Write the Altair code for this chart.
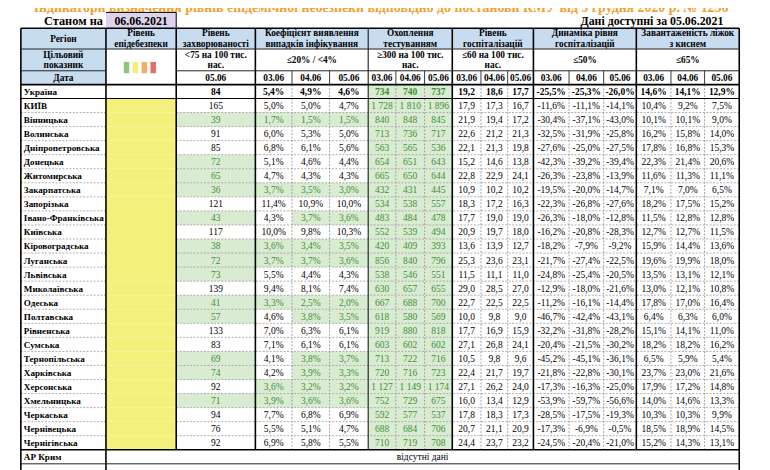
import altair as alt
import pandas as pd

# ---------------- data ----------------
TITLE = "Індикатори визначення рівнів епідемічної небезпеки відповідно до постанови КМУ від 9 грудня 2020 р. № 1236"
AS_OF_LABEL = "Станом на"
AS_OF_DATE = "06.06.2021"
AVAILABLE = "Дані доступні за  05.06.2021"

header_titles = ["Регіон", "Рівень\nепідебезпеки", "Рівень\nзахворюваності",
                 "Коефіцієнт виявлення\nвипадків інфікування", "Охоплення\nтестуванням",
                 "Рівень\nгоспіталізацій", "Динаміка рівня\nгоспіталізацій",
                 "Завантаженість ліжок\nз киснем"]
target_label = "Цільовий\nпоказник"
targets = ["<75 на 100 тис.\nнас.", "≤20% / <4%", "≥300 на 100 тис.\nнас.",
           "≤60 на 100 тис.\nнас.", "≤50%", "≤65%"]
date_label = "Дата"
incidence_date = "05.06"
dates3 = ["03.06", "04.06", "05.06"]

regions = ["Україна", "КИЇВ", "Вінницька", "Волинська", "Дніпропетровська", "Донецька",
           "Житомирська", "Закарпатська", "Запорізька", "Івано-Франківська", "Київська",
           "Кіровоградська", "Луганська", "Львівська", "Миколаївська", "Одеська", "Полтавська",
           "Рівненська", "Сумська", "Тернопільська", "Харківська", "Херсонська", "Хмельницька",
           "Черкаська", "Чернівецька", "Чернігівська"]

incidence = [84, 165, 39, 91, 85, 72, 65, 36, 121, 43, 117, 38, 72, 73, 139, 41, 57, 133, 83, 69, 74, 92, 71, 94, 76, 92]

det_0306 = [5.4, 5.0, 1.7, 6.0, 6.8, 5.1, 4.7, 3.7, 11.4, 4.3, 10.0, 3.6, 3.7, 5.5, 9.4, 3.3, 4.6, 7.0, 7.1, 4.1, 4.2, 3.6, 3.9, 7.7, 5.5, 6.9]
det_0406 = [4.9, 5.0, 1.5, 5.3, 6.1, 4.6, 4.3, 3.5, 10.9, 3.7, 9.8, 3.4, 3.7, 4.4, 8.1, 2.5, 3.8, 6.3, 6.1, 3.8, 3.9, 3.2, 3.6, 6.8, 5.1, 5.8]
det_0506 = [4.6, 4.7, 1.5, 5.0, 5.6, 4.4, 4.3, 3.0, 10.0, 3.6, 10.3, 3.5, 3.6, 4.3, 7.4, 2.0, 3.5, 6.1, 6.1, 3.7, 3.3, 3.2, 3.6, 6.9, 4.7, 5.5]

test_0306 = [734, 1728, 840, 713, 563, 654, 665, 432, 534, 483, 552, 420, 856, 538, 630, 667, 618, 919, 603, 713, 720, 1127, 752, 592, 688, 710]
test_0406 = [740, 1810, 848, 736, 565, 651, 650, 431, 538, 484, 539, 409, 840, 546, 657, 688, 580, 880, 602, 722, 716, 1149, 729, 577, 684, 719]
test_0506 = [737, 1896, 845, 717, 536, 643, 644, 445, 557, 478, 494, 393, 796, 551, 655, 700, 569, 818, 602, 716, 723, 1174, 675, 537, 706, 708]

hosp_0306 = [19.2, 17.9, 21.9, 22.6, 22.1, 15.2, 22.8, 10.9, 18.3, 17.7, 20.9, 13.6, 25.3, 11.5, 29.0, 22.7, 10.0, 17.7, 27.1, 10.5, 22.4, 27.1, 16.0, 17.8, 20.7, 24.4]
hosp_0406 = [18.6, 17.3, 19.4, 21.2, 21.3, 14.6, 22.9, 10.2, 17.2, 19.0, 19.7, 13.9, 23.6, 11.1, 28.5, 22.5, 9.8, 16.9, 26.8, 9.8, 21.7, 26.2, 13.4, 18.3, 21.1, 23.7]
hosp_0506 = [17.7, 16.7, 17.2, 21.3, 19.8, 13.8, 24.1, 10.2, 16.3, 19.0, 18.0, 12.7, 23.1, 11.0, 27.0, 22.5, 9.0, 15.9, 24.1, 9.6, 19.7, 24.0, 12.9, 17.3, 20.9, 23.2]

dyn_0306 = [-25.5, -11.6, -30.4, -32.5, -27.6, -42.3, -26.3, -19.5, -22.3, -26.3, -16.2, -18.2, -21.7, -24.8, -12.9, -11.2, -46.7, -32.2, -20.4, -45.2, -21.8, -17.3, -53.9, -28.5, -17.3, -24.5]
dyn_0406 = [-25.3, -11.1, -37.1, -31.9, -25.0, -39.2, -23.8, -20.0, -26.8, -18.0, -20.8, -7.9, -27.4, -25.4, -18.0, -16.1, -42.4, -31.8, -21.5, -45.1, -22.8, -16.3, -59.7, -17.5, -6.9, -20.4]
dyn_0506 = [-26.0, -14.1, -43.0, -25.8, -27.5, -39.4, -13.9, -14.7, -27.6, -12.8, -28.3, -9.2, -22.5, -20.5, -21.6, -14.4, -43.1, -28.2, -30.2, -36.1, -30.1, -25.0, -56.6, -19.3, -0.5, -21.0]

beds_0306 = [14.6, 10.4, 10.1, 16.2, 17.8, 22.3, 11.6, 7.1, 18.2, 11.5, 12.7, 15.9, 19.6, 13.5, 13.0, 17.8, 6.4, 15.1, 18.2, 6.5, 23.7, 17.9, 14.0, 10.3, 18.5, 15.2]
beds_0406 = [14.1, 9.2, 10.1, 15.8, 16.8, 21.4, 11.3, 7.0, 17.5, 12.8, 12.7, 14.4, 19.9, 13.1, 12.1, 17.0, 6.3, 14.1, 18.2, 5.9, 23.0, 17.2, 14.6, 10.3, 18.9, 14.3]
beds_0506 = [12.9, 7.5, 9.0, 14.0, 15.3, 20.6, 11.1, 6.5, 15.2, 12.8, 11.5, 13.6, 18.0, 12.1, 10.8, 16.4, 6.0, 11.0, 16.2, 5.4, 21.6, 14.8, 13.3, 9.9, 14.5, 13.1]

crimea_label = "АР Крим"
no_data = "відсутні дані"

# ---------------- layout / style ----------------
FONT = "Liberation Serif"
col_edges = [21, 107, 178, 258, 295, 333, 372, 400, 429, 457, 486, 513, 539, 575, 610, 643, 678, 712, 747]
group_spans = [(0, 1), (1, 2), (2, 3), (3, 6), (6, 9), (9, 12), (12, 15), (15, 18)]
Y_TOP, Y_H1, Y_H2, Y_H3 = 26, 47, 69, 83
Y_UKR_BOTTOM = 97
ROW_H = 14.2
n_obl = len(regions) - 1
Y_DATA_BOTTOM = Y_UKR_BOTTOM + n_obl * ROW_H
Y_CRIMEA_BOTTOM = Y_DATA_BOTTOM + 14.2
LH = 10.8
FS_HEAD = 9.4
FS_VAL = 9.6
FS_REG = 9.2

BLUE = "#c8dcf0"
GREEN_FILL = "#d9ecd2"
GREEN_TEXT = "#3e8e38"
YELLOW = "#f4f07c"
LAVENDER = "#ddd3ea"
ORANGE = "#f2a12e"
level_colors = ["#93c47d", "#f2ef7a", "#f4ad66", "#e66b6b"]


def cx(a, b):
    return (col_edges[a] + col_edges[b]) / 2


def fmt_pct(v):
    return f"{v:.1f}".replace(".", ",") + "%"


def fmt_dec(v):
    return f"{v:.1f}".replace(".", ",")


def fmt_int(v):
    return f"{v:,}".replace(",", " ")


cells, lines = [], []
t_bc, t_nc, t_bl, t_br = [], [], [], []


def cell(x, x2, y, y2, fill):
    cells.append(dict(x=x, x2=x2, y=y, y2=y2, fill=fill))


def line(x, x2, y, y2, w=1.0, color="#000000", dash=False):
    lines.append(dict(x=x, x2=x2, y=y, y2=y2, w=w, color=color, dash=dash))


def txt(store, x, y, text, color="#000000", size=FS_HEAD):
    n = text.count("\n")
    store.append(dict(x=x, y=y - n * LH / 2, text=text, color=color, size=size))


# header row 1
for (a, b), h in zip(group_spans, header_titles):
    cell(col_edges[a], col_edges[b], Y_TOP, Y_H1, BLUE)
    txt(t_bc, cx(a, b), (Y_TOP + Y_H1) / 2, h)
# region column of target/date rows
cell(col_edges[0], col_edges[1], Y_H1, Y_H3, BLUE)
txt(t_bc, cx(0, 1), (Y_H1 + Y_H2) / 2, target_label)
txt(t_bc, cx(0, 1), (Y_H2 + Y_H3) / 2 + 0.5, date_label)
# level legend squares
for k, c in enumerate(level_colors):
    cell(125 + 9 * k, 130.5 + 9 * k, 60, 71.5, c)
# targets and dates
for (a, b), t in zip(group_spans[2:], targets):
    txt(t_bc, cx(a, b), (Y_H1 + Y_H2) / 2, t)
txt(t_bc, cx(2, 3), (Y_H2 + Y_H3) / 2 + 0.5, incidence_date)
for g in range(5):
    for k in range(3):
        c0 = 3 + g * 3 + k
        txt(t_bc, cx(c0, c0 + 1), (Y_H2 + Y_H3) / 2 + 0.5, dates3[k])

# data rows
series = [incidence, det_0306, det_0406, det_0506, test_0306, test_0406, test_0506,
          hosp_0306, hosp_0406, hosp_0506, dyn_0306, dyn_0406, dyn_0506,
          beds_0306, beds_0406, beds_0506]
for i, reg in enumerate(regions):
    if i == 0:
        y0, y1 = Y_H3, Y_UKR_BOTTOM
    else:
        y0 = Y_UKR_BOTTOM + (i - 1) * ROW_H
        y1 = y0 + ROW_H
    yc = (y0 + y1) / 2 + 0.5
    txt(t_bl, 24, yc, reg, size=FS_REG)
    if i > 0:
        cell(col_edges[1], col_edges[2], y0, y1, YELLOW)
    for s, vals in enumerate(series):
        v = vals[i]
        c0 = 2 + s
        if s == 0:
            text, good = fmt_int(v), v < 75
        elif s <= 3:
            text, good = fmt_pct(v), v < 4
        elif s <= 6:
            text, good = fmt_int(v), v >= 300
        elif s <= 9:
            text, good = fmt_dec(v), False
        else:
            text, good = fmt_pct(v), False
        if good:
            cell(col_edges[c0], col_edges[c0 + 1], y0, y1, GREEN_FILL)
        store = t_bc if i == 0 else t_nc
        txt(store, cx(c0, c0 + 1), yc, text, GREEN_TEXT if good else "#000000", size=FS_VAL)

# Crimea row
yc = (Y_DATA_BOTTOM + Y_CRIMEA_BOTTOM) / 2 + 0.5
txt(t_bl, 24, yc, crimea_label, size=FS_REG)
txt(t_nc, (col_edges[1] + col_edges[-1]) / 2, yc, no_data, size=FS_VAL)

# top labels
cell(107, 178, 10, Y_TOP, LAVENDER)
txt(t_br, 104, 19, AS_OF_LABEL, size=12.5)
txt(t_bc, 142.5, 19, AS_OF_DATE, size=12)
txt(t_br, 731, 19, AVAILABLE, size=12)
title_df = pd.DataFrame([dict(x=385, y=9.3, text=TITLE, color=ORANGE, size=14)])

# ---- lines ----
thick = 1.6
for x in [21, 107, 747]:
    line(x, x, Y_TOP, 480, thick)
for x in [178, 258, 457, 539, 643]:
    line(x, x, Y_TOP, Y_DATA_BOTTOM, thick)
line(372, 372, Y_TOP, Y_DATA_BOTTOM, 1.0)
line(107, 178, 10, 10, 1.0)
line(178, 178, 10, Y_TOP, 1.0)
line(21, 747, Y_TOP, Y_TOP, thick)
line(21, 747, Y_H1, Y_H1, 1.0, "#222222")
line(21, 107, Y_H2, Y_H2, 1.0, "#222222")
line(178, 747, Y_H2, Y_H2, 1.0, "#222222")
line(21, 747, Y_H3, Y_H3, thick)
line(21, 747, Y_UKR_BOTTOM, Y_UKR_BOTTOM, 1.2)
line(21, 747, Y_DATA_BOTTOM, Y_DATA_BOTTOM, thick)
line(21, 747, Y_CRIMEA_BOTTOM, Y_CRIMEA_BOTTOM, 1.0, "#222222")
for k in range(1, n_obl):
    y = Y_UKR_BOTTOM + k * ROW_H
    line(21, 107, y, y, 0.8, "#9a9a9a", True)
    line(178, 747, y, y, 0.8, "#9a9a9a", True)
for x in [295, 333, 400, 429, 486, 513, 575, 610, 678, 712]:
    line(x, x, Y_H2, Y_H3, 0.9, "#222222")
    line(x, x, Y_H3, Y_DATA_BOTTOM, 0.8, "#8a8a8a", True)

cells_df = pd.DataFrame(cells)
lines_df = pd.DataFrame(lines)

XS = alt.Scale(domain=[8, 770], nice=False, zero=False)
YS = alt.Scale(domain=[8, 470], nice=False, zero=False, reverse=True)


def enc_xy():
    return dict(x=alt.X("x:Q", scale=XS, axis=None), y=alt.Y("y:Q", scale=YS, axis=None))


rects = alt.Chart(cells_df).mark_rect().encode(
    **enc_xy(), x2="x2:Q", y2="y2:Q", fill=alt.Fill("fill:N", scale=None))


def rules(df, dash):
    m = alt.Chart(df).mark_rule(strokeDash=[2, 1.5]) if dash else alt.Chart(df).mark_rule()
    return m.encode(**enc_xy(), x2="x2:Q", y2="y2:Q",
                    color=alt.Color("color:N", scale=None),
                    strokeWidth=alt.StrokeWidth("w:Q", scale=None))


def texts(rows, weight, align):
    df = pd.DataFrame(rows)
    return alt.Chart(df).mark_text(font=FONT, fontWeight=weight, align=align,
                                   baseline="middle", lineBreak="\n", lineHeight=LH).encode(
        **enc_xy(), text="text:N", color=alt.Color("color:N", scale=None),
        size=alt.Size("size:Q", scale=None))


title_layer = alt.Chart(title_df).mark_text(font=FONT, fontWeight="bold", align="center",
                                            baseline="alphabetic").encode(
    **enc_xy(), text="text:N", color=alt.Color("color:N", scale=None),
    size=alt.Size("size:Q", scale=None))

chart = alt.layer(
    rects,
    rules(lines_df[lines_df.dash], True),
    rules(lines_df[~lines_df.dash], False),
    title_layer,
    texts(t_bc, "bold", "center"),
    texts(t_nc, "normal", "center"),
    texts(t_bl, "bold", "left"),
    texts(t_br, "bold", "right"),
).properties(
    width=762, height=462, autosize=alt.AutoSizeParams(type="none"), padding=0,
    background="white"
).configure_view(stroke=None)

chart.save("out.html", embed_options={"renderer": "svg", "actions": False})
